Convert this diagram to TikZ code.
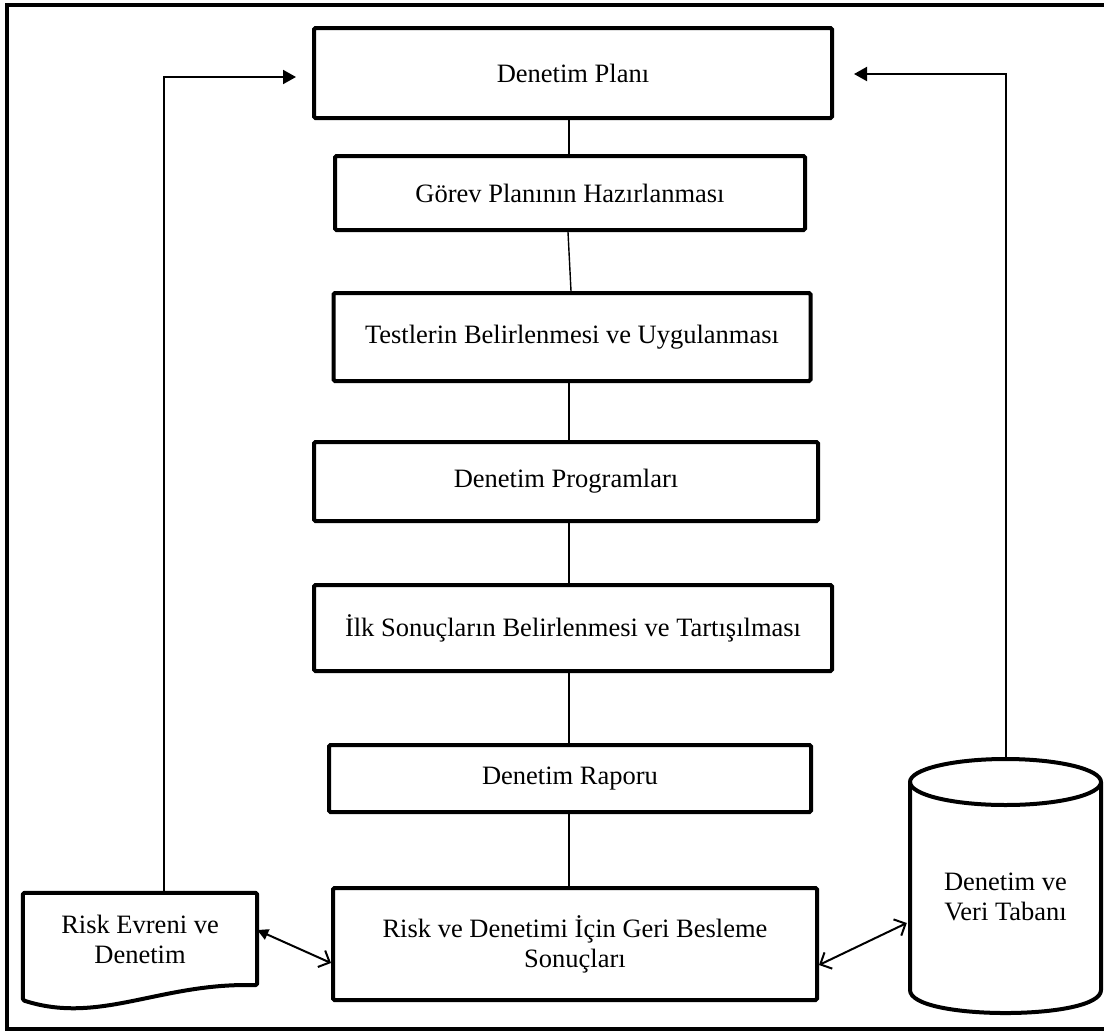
\documentclass[tikz,border=0pt]{standalone}
\usepackage{fontspec}
\setmainfont{Liberation Serif}
\usetikzlibrary{arrows.meta,calc}
\begin{document}
\begin{tikzpicture}[x=1pt,y=-1pt,
  procbox/.style={draw, line width=4pt, rounded corners=1.5pt, inner sep=0pt, align=center,
     font=\fontsize{26.5}{30}\selectfont},
  plaintext/.style={inner sep=0pt, align=center, font=\fontsize{26.5}{30}\selectfont},
  shapeline/.style={line width=4pt, line join=round},
  link/.style={line width=1.4pt},
  feedarrow/.style={line width=2pt, -{Triangle[length=13pt,width=14pt]}},
  dblone/.style={line width=2pt, {Triangle[length=11pt,width=11pt]}-{Straight Barb[length=9pt,width=18pt]}},
  dbltwo/.style={line width=2pt, {Straight Barb[length=9pt,width=18pt]}-{Straight Barb[length=9pt,width=18pt]}}
]
\useasboundingbox (0,0) rectangle (1104,1034);
\clip (0,0) rectangle (1104,1034);

% outer frame (right side lies beyond the picture)
\draw[line width=4pt] (1120,5) -- (7,5) -- (7,1029) -- (1120,1029);

% column boxes
\node[procbox, minimum width=518pt, minimum height=90pt] (plan) at (573,73) {Denetim Planı};
\node[procbox, minimum width=470pt, minimum height=74pt] (gorev) at (570,193) {Görev Planının Hazırlanması};
\node[procbox, minimum width=477pt, minimum height=88pt] (test) at (572,337) {Testlerin Belirlenmesi ve Uygulanması};
\node[procbox, minimum width=504pt, minimum height=79pt] (prog) at (566,481.5) {Denetim Programları};
\node[procbox, minimum width=518pt, minimum height=86pt] (ilk) at (573,628) {İlk Sonuçların Belirlenmesi ve Tartışılması};
\node[procbox, minimum width=482pt, minimum height=67pt] (rapor) at (570,778.5) {Denetim Raporu};
\node[procbox, minimum width=484pt, minimum height=112pt] (fb) at (575,944) {Risk ve Denetimi İçin Geri Besleme\\Sonuçları};

% document shape
\node[plaintext, minimum width=234pt, minimum height=92pt] (risk) at (140,939) {Risk Evreni ve\\Denetim};
\draw[shapeline, rounded corners=1.5pt] (risk.north west) -- (risk.north east) -- (risk.south east)
  .. controls +(-97,-3) and +(77,25) .. ([yshift=-15pt]risk.south west) -- cycle;

% database cylinder
\node[plaintext, minimum width=191pt, minimum height=230pt] (db) at (1005.5,897) {Denetim ve\\Veri Tabanı};
\draw[shapeline] (1005.5,782) ellipse [x radius=95.5pt, y radius=23pt];
\draw[shapeline] (910,782) -- (910,990) .. controls (910,1020.7) and (1101,1020.7) .. (1101,990) -- (1101,782);

% column connectors
\coordinate (col) at (569,0);
\draw[link] (plan.south -| col) -- (gorev.north -| col);
\draw[link] ([xshift=-2pt]gorev.south) -- ([xshift=-1pt]test.north);
\draw[link] (test.south -| col) -- (prog.north -| col);
\draw[link] (prog.south -| col) -- (ilk.north -| col);
\draw[link] (ilk.south -| col) -- (rapor.north -| col);
\draw[link] (rapor.south -| col) -- (fb.north -| col);

% feedback arrows to plan
\coordinate (lx) at (164,0);
\draw[feedarrow] (risk.north -| lx) |- ([xshift=-16pt,yshift=-4pt]plan.west);
\draw[feedarrow] ([yshift=23pt]db.north) |- ([xshift=20pt,yshift=-1pt]plan.east);

% double arrows
\draw[dblone] ([yshift=9pt]risk.east) -- ([yshift=-19pt]fb.west);
\draw[dbltwo] ([yshift=-21pt]fb.east) -- ([xshift=-3pt,yshift=-26pt]db.west);
\end{tikzpicture}
\end{document}
